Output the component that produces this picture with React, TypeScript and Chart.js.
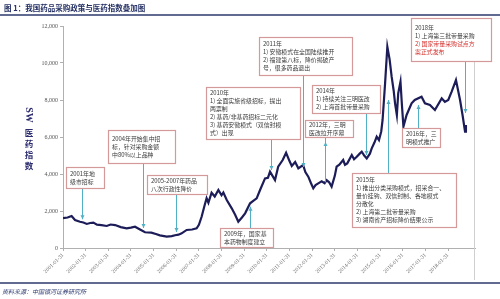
import { useEffect, useRef } from "react";
import { Chart, registerables } from "chart.js";

Chart.register(...registerables);

// ---- data ----
const years = [
  2001.0, 2001.2, 2001.38, 2001.53, 2001.75, 2001.9, 2002.05, 2002.2, 2002.34, 2002.5,
  2002.7, 2002.93, 2003.1, 2003.3, 2003.55, 2003.81, 2004.0, 2004.18, 2004.4, 2004.62,
  2004.9, 2005.1, 2005.28, 2005.58, 2005.8, 2005.95, 2006.1, 2006.24, 2006.46, 2006.7,
  2006.9, 2007.0, 2007.12, 2007.25, 2007.34, 2007.42, 2007.56, 2007.7, 2007.86, 2008.0,
  2008.08, 2008.23, 2008.45, 2008.6, 2008.74, 2008.9, 2009.04, 2009.26, 2009.4, 2009.55,
  2009.7, 2009.92, 2010.05, 2010.14, 2010.25, 2010.36, 2010.5, 2010.7, 2010.85, 2011.0,
  2011.1, 2011.25, 2011.39, 2011.6, 2011.7, 2011.83, 2011.95, 2012.05, 2012.15, 2012.27,
  2012.42, 2012.55, 2012.64, 2012.75, 2012.86, 2013.0, 2013.08, 2013.2, 2013.37, 2013.45,
  2013.55, 2013.75, 2013.85, 2013.97, 2014.1, 2014.19, 2014.3, 2014.41, 2014.55, 2014.63,
  2014.75, 2014.85, 2014.95, 2015.05, 2015.11, 2015.22, 2015.32, 2015.42, 2015.51, 2015.6,
  2015.66, 2015.74, 2015.8, 2015.9, 2015.96, 2016.03, 2016.17, 2016.39, 2016.53, 2016.83,
  2016.98, 2017.2, 2017.42, 2017.72, 2017.86, 2018.01, 2018.16, 2018.35, 2018.53, 2018.64,
  2018.75, 2018.79,
];
const swIndex = [
  1610, 1650, 1730, 1510, 1420, 1380, 1300, 1350, 1370, 1260,
  1240, 1190, 1270, 1240, 1130, 1065, 1100, 1150, 1000, 850,
  830, 760, 685, 615, 640, 690, 720, 790, 975, 1000,
  1060, 1250, 1690, 2300, 2690, 2450, 2990, 2780, 3135, 2850,
  3000, 2595, 2145, 1800, 1420, 1650, 1875, 2415, 2550, 2685,
  3135, 3765, 3800, 4125, 3900, 3675, 4395, 4755, 5150, 4700,
  4430, 4650, 4305, 4485, 4100, 3855, 3500, 3225, 3400, 3490,
  3600, 3500, 3670, 3550, 3315, 3900, 4395, 4500, 4755, 4500,
  4575, 5025, 4800, 4935, 5100, 5205, 5000, 4845, 5100, 5385,
  5700, 6015, 5835, 6300, 6920, 8900, 10880, 10200, 9260, 8500,
  7820, 7190, 8360, 8990, 7800, 6560, 7190, 7820, 8000, 8180,
  7820, 7730, 7460, 8090, 7900, 8000, 8450, 9080, 8000, 7190,
  6290, 6650,
];
const tickYears = [2001, 2002, 2003, 2004, 2005, 2006, 2007, 2008, 2009, 2010, 2011, 2012, 2013, 2014, 2015, 2016, 2017, 2018];
const tickLabels = [
  "2001-01-31", "2002-01-31", "2003-01-31", "2004-01-31", "2005-01-31", "2006-01-31",
  "2007-01-31", "2008-01-31", "2009-01-31", "2010-01-31", "2011-01-31", "2012-01-31",
  "2013-01-31", "2014-01-31", "2015-01-31", "2016-01-31", "2017-01-31", "2018-01-31",
];
const yTicks = [0, 2000, 4000, 6000, 8000, 10000, 12000];

const titleText = "图 1：我国药品采购政策与医药指数叠加图";
const sourceText = "资料来源：中国银河证券研究所";
const yTitleLatin = "SW";
const yTitleChars = ["医", "药", "指", "数"];

// annotation texts and the (year, index value) each arrow points at
const noteLines = [
  ["2001年地", "级市招标"],
  ["2004年开始集中招", "标，针对采购金额", "中80%以上品种"],
  ["2005-2007年药品", "八次行政性降价"],
  ["2009年，国家基", "本药物制度建立"],
  ["2010年", "1) 全面实施省级招标，提出", "两票制", "2) 基药/非基药招标二元化", "3) 基药安徽模式（双信封模", "式）出现"],
  ["2011年", "1) 安徽模式在全国陆续推开", "2) 福建第八标，降价揭破产", "号，很多药品退出"],
  ["2012年，三明", "医改拉开序幕"],
  ["2014年", "1) 持续关注三明医改", "2) 上海首批带量采购"],
  ["2015年", "1) 推出分类采购模式，招采合一、", "量价挂钩、双信封制、各地模式", "分散化", "2) 上海第二批带量采购", "3) 湖南省产招标降价结果公示"],
  ["2016年，三", "明模式推广"],
  ["2018年", "1) 上海第三批带量采购", "2) 国家带量采购试点方", "案正式发布"],
];
const noteYears = [2001.84, 2004.53, 2005.99, 2009.26, 2010.18, 2011.6, 2012.57, 2014.38, 2015.35, 2016.67, 2018.75];
const noteValues = [1550, 1080, 865, 2230, 4215, 4380, 3550, 5025, 8000, 7730, 7300];
const noteRedLines = [[], [], [], [], [], [], [], [], [], [], [2, 3]];

// layout of the annotation boxes (x, y, w, h in px) and which side the arrow leaves from
const noteBoxes = [
  [66, 167, 38, 21],
  [108, 130, 67, 33],
  [147, 175, 60, 19],
  [220, 228, 53, 19],
  [206, 87, 94, 52],
  [259, 37, 93, 38],
  [305, 120, 48, 17],
  [312, 85, 68, 28],
  [352, 173, 104, 54],
  [402, 128, 38, 19],
  [411, 18, 80, 43],
];
const noteSides = ["bottom", "bottom", "bottom", "top", "bottom", "bottom", "bottom", "bottom", "top", "top", "bottom"];
const noteHeadAtBox = [false, false, false, false, false, false, true, false, false, false, false];

const NAVY = "#1c1c58";
const TEAL = "#4fb0c6";
const CJK = '"Noto Sans CJK SC", "Noto Sans", sans-serif';
const SERIF = '"Liberation Serif", "DejaVu Serif", serif';

function arrowHead(ctx: CanvasRenderingContext2D, x: number, y: number, dir: number) {
  // dir: 1 pointing down, -1 pointing up
  ctx.beginPath();
  ctx.moveTo(x, y);
  ctx.lineTo(x - 2, y - 4 * dir);
  ctx.lineTo(x + 2, y - 4 * dir);
  ctx.closePath();
  ctx.fill();
}

const annotationPlugin = {
  id: "notes",
  afterDatasetsDraw(chart: any) {
    const ctx: CanvasRenderingContext2D = chart.ctx;
    const xs = chart.scales.x;
    const ys = chart.scales.y;
    ctx.save();
    noteBoxes.forEach((b, i) => {
      const [bx, by, bw, bh] = b;
      const px = Math.round(xs.getPixelForValue(noteYears[i])) + 0.5;
      const py = ys.getPixelForValue(noteValues[i]);
      const sy = noteSides[i] === "bottom" ? by + bh : by;
      ctx.strokeStyle = TEAL;
      ctx.fillStyle = TEAL;
      ctx.lineWidth = 1;
      ctx.beginPath();
      ctx.moveTo(px, sy);
      ctx.lineTo(px, py);
      ctx.stroke();
      const dirToTarget = py > sy ? 1 : -1;
      if (noteHeadAtBox[i]) {
        arrowHead(ctx, px, sy + 5 * dirToTarget, -dirToTarget);
      } else {
        arrowHead(ctx, px, py, dirToTarget);
      }
    });
    noteBoxes.forEach((b, i) => {
      const [bx, by, bw, bh] = b;
      ctx.fillStyle = "#ffffff";
      ctx.fillRect(bx, by, bw, bh);
      ctx.strokeStyle = "#d49a9a";
      ctx.lineWidth = 1.2;
      ctx.strokeRect(bx + 0.5, by + 0.5, bw, bh);
      const lines = noteLines[i];
      const lh = 8;
      const start = by + (bh - lines.length * lh) / 2 + lh * 0.78;
      ctx.font = `5.9px ${CJK}`;
      ctx.textAlign = "left";
      ctx.textBaseline = "alphabetic";
      lines.forEach((t, j) => {
        ctx.fillStyle = noteRedLines[i].includes(j) ? "#d3302b" : "#3a3a3a";
        ctx.fillText(t, bx + 4, start + j * lh);
      });
    });
    ctx.restore();
  },
  afterDraw(chart: any) {
    const ctx: CanvasRenderingContext2D = chart.ctx;
    ctx.save();
    // title
    ctx.font = `bold 7.5px ${CJK}`;
    ctx.fillStyle = "#243063";
    ctx.textAlign = "left";
    ctx.textBaseline = "middle";
    ctx.fillText(titleText, 4, 8);
    ctx.strokeStyle = "#2c3a6e";
    ctx.lineWidth = 1.5;
    ctx.beginPath();
    ctx.moveTo(0, 15);
    ctx.lineTo(500, 15);
    ctx.stroke();
    // right frame line
    ctx.strokeStyle = "#cfcfcf";
    ctx.lineWidth = 1;
    ctx.beginPath();
    ctx.moveTo(474.5, 62);
    ctx.lineTo(474.5, 280);
    ctx.stroke();
    // bottom line
    ctx.strokeStyle = "#2c3a6e";
    ctx.lineWidth = 1.3;
    ctx.beginPath();
    ctx.moveTo(0, 283);
    ctx.lineTo(500, 283);
    ctx.stroke();
    // source
    ctx.font = `italic 6px ${CJK}`;
    ctx.fillStyle = "#2c3a6e";
    ctx.textBaseline = "middle";
    ctx.fillText(sourceText, 2, 292);
    // y title
    ctx.fillStyle = "#2a2a6e";
    ctx.font = `bold 10px ${SERIF}`;
    ctx.save();
    ctx.translate(29, 115);
    ctx.rotate(Math.PI / 2);
    ctx.textAlign = "center";
    ctx.textBaseline = "middle";
    ctx.fillText(yTitleLatin, 0, 0);
    ctx.restore();
    ctx.font = `bold 8.5px ${CJK}`;
    ctx.textAlign = "center";
    ctx.textBaseline = "middle";
    yTitleChars.forEach((c, i) => ctx.fillText(c, 29, 133 + i * 11));
    ctx.restore();
  },
};

export default function App() {
  const ref = useRef<HTMLCanvasElement | null>(null);
  useEffect(() => {
    document.body.style.margin = "0";
    const canvas = ref.current!;
    const chart = new Chart(canvas, {
      type: "line",
      data: {
        datasets: [
          {
            data: years.map((y, i) => ({ x: y, y: swIndex[i] })),
            borderColor: NAVY,
            borderWidth: 2.2,
            pointRadius: 0,
            tension: 0,
            fill: false,
          },
        ],
      },
      options: {
        responsive: false,
        animation: false,
        devicePixelRatio: 1,
        layout: { padding: { top: 26, right: 25, left: 0, bottom: 0 } },
        plugins: { legend: { display: false }, tooltip: { enabled: false }, title: { display: false } },
        scales: {
          x: {
            type: "linear",
            min: 2001,
            max: 2019.19,
            afterBuildTicks: (s: any) => {
              s.ticks = tickYears.map((v) => ({ value: v }));
            },
            afterFit: (s: any) => {
              s.height = 51;
            },
            ticks: {
              autoSkip: false,
              minRotation: 45,
              maxRotation: 45,
              padding: 1,
              color: "#666",
              font: { size: 5.5, family: SERIF },
              callback: (v: any) => {
                const k = tickYears.indexOf(Number(v));
                return k >= 0 ? tickLabels[k] : "";
              },
            },
            grid: { drawOnChartArea: false, drawTicks: true, tickLength: 3, color: "#b0b0b0" },
            border: { color: "#b0b0b0" },
          },
          y: {
            min: 0,
            max: 12000,
            afterBuildTicks: (s: any) => {
              s.ticks = yTicks.map((v) => ({ value: v }));
            },
            afterFit: (s: any) => {
              s.width = 63;
            },
            ticks: {
              padding: 2,
              color: "#555",
              font: { size: 6, family: SERIF },
              callback: (v: any) => Number(v).toLocaleString("en-US"),
            },
            grid: { drawOnChartArea: false, drawTicks: true, tickLength: 3, color: "#b0b0b0" },
            border: { color: "#b0b0b0" },
          },
        },
      },
      plugins: [annotationPlugin],
    });
    return () => chart.destroy();
  }, []);
  return <canvas ref={ref} width={500} height={299} style={{ display: "block" }} />;
}
